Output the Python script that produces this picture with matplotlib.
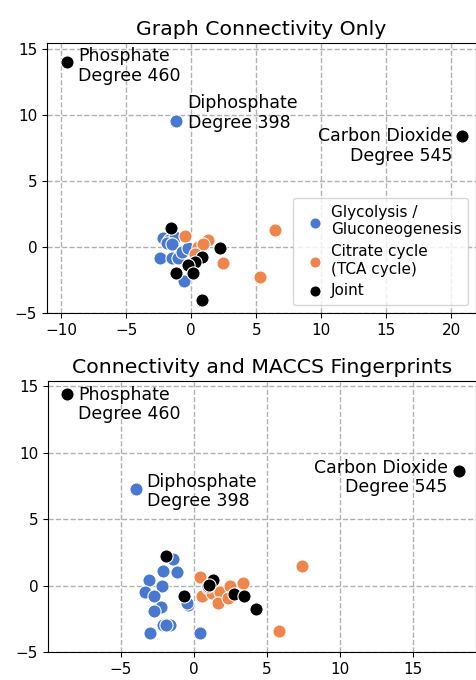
import matplotlib
matplotlib.use("Agg")
import matplotlib.pyplot as plt
import numpy as np

# --- embedding coordinates: graph connectivity only ---
conn_gly_x = [-1.2, -2.15, -1.75, -1.25, -1.9, -1.5, -2.4, -1.45, -1.0, -0.7, -0.25, -0.6]
conn_gly_y = [9.55, 0.7, 0.55, 0.75, 0.3, 0.2, -0.85, -0.85, -0.8, -0.4, -0.1, -2.6]
conn_tca_x = [-0.45, 1.3, 0.55, 0.9, 0.3, 2.4, 6.45, 5.3]
conn_tca_y = [0.85, 0.55, 0.0, 0.2, -0.5, -1.2, 1.3, -2.3]
conn_joint_x = [-9.55, 20.85, -1.6, 2.2, 0.85, 0.3, -0.25, -1.15, 0.15, 0.85]
conn_joint_y = [14.0, 8.4, 1.45, -0.1, -0.75, -1.15, -1.35, -2.0, -2.0, -4.0]

# --- embedding coordinates: connectivity + MACCS fingerprints ---
maccs_gly_x = [-4.0, -1.45, -2.1, -1.15, -3.1, -2.2, -3.35, -2.75, -0.4, -0.5, -2.25,
               -2.75, -1.65, -2.1, -1.9, -3.0, 0.4]
maccs_gly_y = [7.3, 2.0, 1.1, 1.05, 0.4, 0.0, -0.45, -0.8, -1.45, -1.3, -1.6,
               -1.9, -3.0, -2.95, -3.0, -3.6, -3.6]
maccs_tca_x = [0.4, 0.55, 0.95, 1.25, 1.8, 1.65, 2.45, 3.35, 2.3, 7.4, 5.8]
maccs_tca_y = [0.65, -0.75, -0.2, -0.55, -0.45, -1.3, -0.05, 0.2, -0.9, 1.45, -3.4]
maccs_joint_x = [-8.7, 18.1, -1.9, -0.7, 1.3, 0.95, 1.05, 2.7, 3.4, 4.25]
maccs_joint_y = [14.4, 8.6, 2.2, -0.75, 0.4, -0.05, 0.05, -0.6, -0.8, -1.8]

labels = ["Glycolysis /\nGluconeogenesis", "Citrate cycle\n(TCA cycle)", "Joint"]
colors = ["#4878d0", "#ee854a", "black"]

# hub metabolites: (name, degree, text offset in pixels, alignment)
hubs_conn = [("Phosphate", 460, (11, -4), "left"),
             ("Diphosphate", 398, (12, 8), "left"),
             ("Carbon Dioxide", 545, (-10, -10), "right")]
hubs_maccs = [("Phosphate", 460, (11, -10), "left"),
              ("Diphosphate", 398, (11, -3), "left"),
              ("Carbon Dioxide", 545, (-11, -6), "right")]


def draw_panel(ax, series, hubs, hub_pts, title, xlim, ylim, legend=False):
    handles = []
    for (x, y), lab, col in zip(series, labels, colors):
        h = ax.scatter(x, y, s=90, c=col, edgecolors="white", linewidths=0.8,
                       label=lab, zorder=3)
        handles.append(h)
    for (name, deg, off, ha), (px, py) in zip(hubs, hub_pts):
        ax.annotate(name + "\nDegree " + str(deg), xy=(px, py), xytext=off,
                    textcoords="offset pixels", ha=ha, va="center",
                    multialignment=ha, fontsize=12.5, linespacing=1.1, zorder=4)
    ax.grid(True, linestyle="--", color="#b0b0b0", linewidth=1.0)
    ax.set_axisbelow(True)
    ax.set_xlim(*xlim)
    ax.set_ylim(*ylim)
    ax.set_yticks([-5, 0, 5, 10, 15])
    ax.set_title(title, fontsize=14.7)
    ax.tick_params(labelsize=11)
    if legend:
        ax.legend(handles=handles, loc="lower right", fontsize=11,
                  markerscale=0.85, handletextpad=0.05, borderpad=0.45,
                  labelspacing=0.45, borderaxespad=0.5)


fig = plt.figure(figsize=(4.77, 6.8), dpi=100)
ax1 = fig.add_axes([0.0985, 0.5397, 0.8995, 0.3971])
ax2 = fig.add_axes([0.1006, 0.0412, 0.8974, 0.3985])

draw_panel(ax1,
           [(conn_gly_x, conn_gly_y), (conn_tca_x, conn_tca_y), (conn_joint_x, conn_joint_y)],
           hubs_conn,
           [(conn_joint_x[0], conn_joint_y[0]), (conn_gly_x[0], conn_gly_y[0]),
            (conn_joint_x[1], conn_joint_y[1])],
           "Graph Connectivity Only", (-11.1, 21.9), (-5.0, 15.45), legend=True)
ax1.set_xticks([-10, -5, 0, 5, 10, 15, 20])

draw_panel(ax2,
           [(maccs_gly_x, maccs_gly_y), (maccs_tca_x, maccs_tca_y), (maccs_joint_x, maccs_joint_y)],
           hubs_maccs,
           [(maccs_joint_x[0], maccs_joint_y[0]), (maccs_gly_x[0], maccs_gly_y[0]),
            (maccs_joint_x[1], maccs_joint_y[1])],
           "Connectivity and MACCS Fingerprints", (-10.0, 19.3), (-5.0, 15.4))
ax2.set_xticks([-5, 0, 5, 10, 15])

fig.savefig("out.png", dpi=100)
